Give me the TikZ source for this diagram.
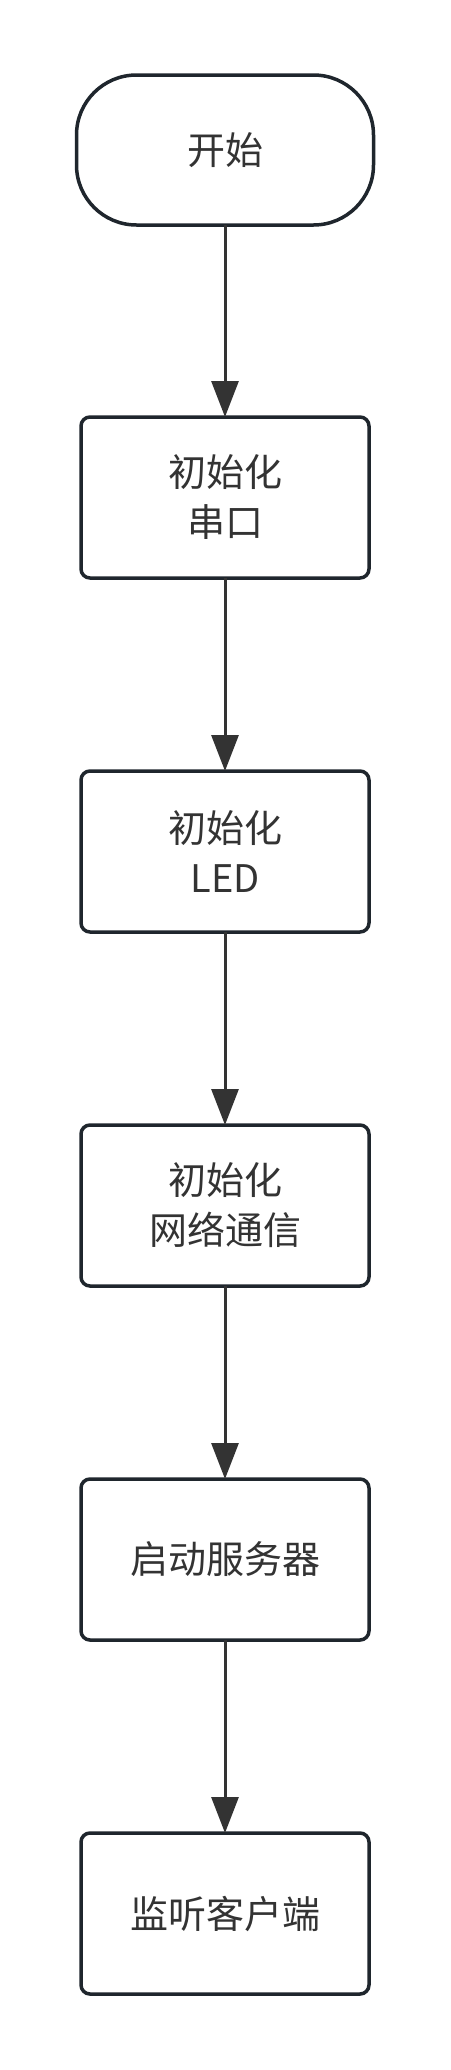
\documentclass[tikz,border=0pt]{standalone}
\usepackage{fontspec}
\newfontfamily\cjk{Noto Sans CJK SC}
\usepackage{xcolor}
\usetikzlibrary{arrows.meta, positioning}
\definecolor{textgray}{HTML}{333333}
\definecolor{borderdark}{HTML}{1F262D}
\tikzset{
  block/.style={rectangle, draw=borderdark, line width=3.5pt, fill=white,
                align=center, rounded corners=9pt, inner sep=0pt, outer sep=0pt,
                minimum height=161pt, minimum width=288pt,
                font=\cjk\fontsize{38}{50}\selectfont, text=textgray},
  terminal/.style={block, rounded corners=60pt,
                   minimum height=150pt, minimum width=297pt},
  arrow/.style={-{Triangle[length=36pt, width=27pt]}, line width=3pt,
                draw=textgray, fill=textgray},
}
\begin{document}
\begin{tikzpicture}[node distance=193pt]
  % page
  \path[fill=white] (0pt,0pt) rectangle (450pt,-2070pt);

  % Start
  \node[terminal] (start) at (225pt,-150pt) {开始};

  % Steps
  \node[block, below=192pt of start] (serial) {初始化\\串口};
  \node[block, below=of serial] (led)    {初始化\\LED};
  \node[block, below=of led]    (net)    {初始化\\网络通信};
  \node[block, below=of net]    (server) {启动服务器};
  \node[block, below=of server] (listen) {监听客户端};

  % Arrows
  \draw[arrow] (start)  -- (serial);
  \draw[arrow] (serial) -- (led);
  \draw[arrow] (led)    -- (net);
  \draw[arrow] (net)    -- (server);
  \draw[arrow] (server) -- (listen);
\end{tikzpicture}
\end{document}
